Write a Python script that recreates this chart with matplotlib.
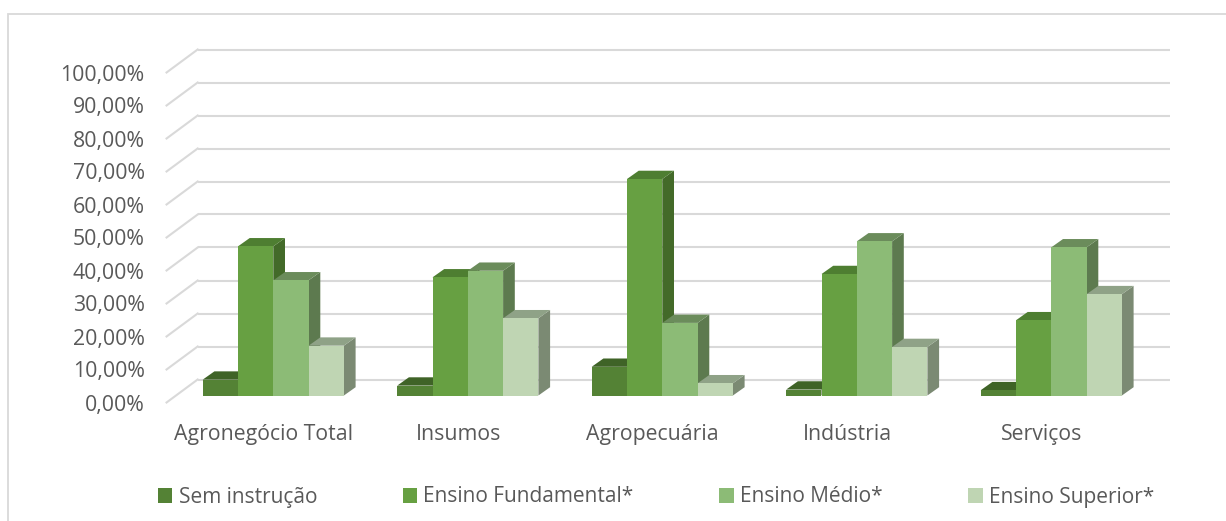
import numpy as np
import matplotlib.pyplot as plt
from matplotlib.patches import Polygon, Rectangle, Patch

# --- data (percent) ---
categorias = ["Agronegócio Total", "Insumos", "Agropecuária", "Indústria", "Serviços"]
series = ["Sem instrução", "Ensino Fundamental*", "Ensino Médio*", "Ensino Superior*"]
sem_instrucao = [4.8, 3.0, 8.7, 1.8, 1.6]
fundamental = [45.2, 35.8, 65.6, 36.8, 22.8]
medio = [34.9, 37.8, 22.0, 46.7, 44.9]
superior = [15.1, 23.4, 3.7, 14.7, 30.7]
yticks = list(range(0, 101, 10))

valores = [sem_instrucao, fundamental, medio, superior]
cor_frente = ["#548235", "#67a042", "#8cbb76", "#bfd5b3"]
cor_topo = ["#3f6327", "#4e7e31", "#6b8c5b", "#8fa287"]
cor_lado = ["#3a5a24", "#436a29", "#5d7a4f", "#7b8a73"]
cinza = "#595959"

plt.rcParams['font.family'] = ['Open Sans', 'DejaVu Sans']

W, H = 1226, 521
fig = plt.figure(figsize=(W / 100, H / 100), dpi=100)

# chart frame
fig.patches.append(Rectangle((7.5 / W, -0.1), 1.2, 1 - 14 / H + 0.1, fill=False,
                             edgecolor="#d9d9d9", lw=1.3, transform=fig.transFigure))

# axes placed in pixels, scale: 194.5 px per category, 3.3 px per percent
px_x, px_y = 194.5, 3.3
x0, y0 = 273.3, 395.5
ax = fig.add_axes([160 / W, 1 - 410 / H, 1030 / W, 380 / H])
ax.set_xlim((160 - x0) / px_x, (1190 - x0) / px_x)
ax.set_ylim((y0 - 410) / px_y, (y0 - 30) / px_y)


def dx(p):
    return p / px_x


def dy(p):
    return p / px_y


# --- gridlines: back wall + slanted side wall ---
bx, by = dx(21.6), dy(16)
fx, fy = dx(9.5), dy(7)
for v in yticks:
    ax.plot([-0.5 + bx, 4.5 + bx], [v + by, v + by], color="#d9d9d9", lw=1.5, zorder=1,
            solid_capstyle="butt")
    ax.plot([-0.5 - fx, -0.5 + bx], [v - fy, v + by], color="#d9d9d9", lw=1.5, zorder=1)

# --- 3d-looking bars ---
w = 35.3 / px_x
ddx, ddy = dx(11.7), dy(8.3)
z = 2
for i in range(len(categorias)):
    for k in range(len(series)):
        v = valores[k][i]
        c = i + (k - 1.5) * w
        l, r = c - w / 2, c + w / 2
        ax.add_patch(Polygon([(r, 0), (r, v), (r + ddx, v + ddy), (r + ddx, ddy)],
                             closed=True, facecolor=cor_lado[k], edgecolor="none", zorder=z))
        ax.add_patch(Polygon([(l, v), (r, v), (r + ddx, v + ddy), (l + ddx, v + ddy)],
                             closed=True, facecolor=cor_topo[k], edgecolor="none", zorder=z + 1))
        ax.bar(c, v, width=w, color=cor_frente[k], edgecolor="none", zorder=z + 2)
        z += 3

# --- axes text ---
ax.set_yticks([v - fy for v in yticks])
ax.set_yticklabels([f"{v:.2f}".replace(".", ",") + "%" for v in yticks])
ax.set_xticks([i - fx for i in range(len(categorias))])
ax.set_xticklabels(categorias)
ax.tick_params(axis="y", length=0, pad=11, labelsize=15.3, labelcolor=cinza)
ax.tick_params(axis="x", length=0, pad=10, labelsize=15.3, labelcolor=cinza)
for s in ax.spines.values():
    s.set_visible(False)

# --- legend ---
handles = [Patch(facecolor=cor_frente[k], edgecolor="none") for k in range(len(series))]
leg = fig.legend(handles, series, loc="center", bbox_to_anchor=(656 / W, 1 - 497 / H),
                 ncol=4, frameon=False, fontsize=15, handlelength=0.7, handleheight=0.7,
                 handletextpad=0.3, columnspacing=4.1, labelcolor=cinza)

fig.savefig("out.png", dpi=100)
